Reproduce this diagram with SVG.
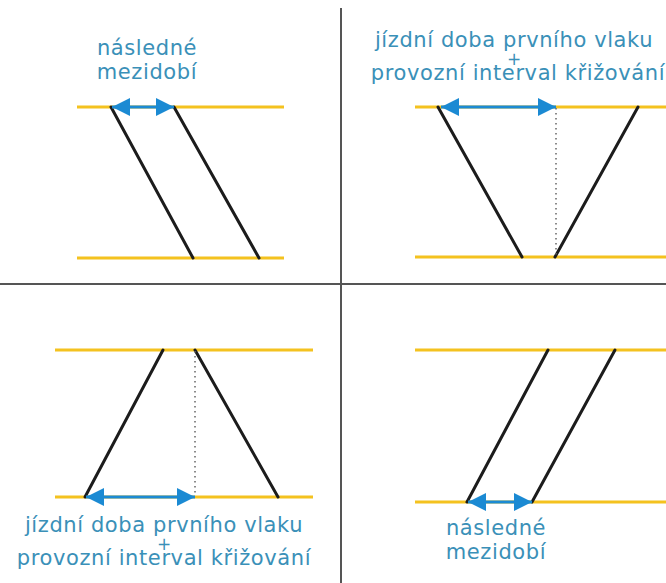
<svg xmlns="http://www.w3.org/2000/svg" width="666" height="583" viewBox="0 0 666 583">
<style>
.rail{stroke:#F4C21F;stroke-width:3;fill:none}
.train{stroke:#1c1c1c;stroke-width:3;fill:none;stroke-linecap:round}
.dim{stroke:#1B8AD3;stroke-width:3;fill:none;marker-start:url(#ah);marker-end:url(#ah)}
.dot{stroke:#666;stroke-width:1.5;stroke-dasharray:1.5 3.5;fill:none}
.div{stroke:#555;stroke-width:2;fill:none}
.lbl{font-family:"DejaVu Sans",Verdana,sans-serif;font-size:21px;letter-spacing:0.6px;fill:#3A90B8;text-anchor:middle}
.plus{font-size:17px;letter-spacing:0}
</style>
<defs>
<marker id="ah" viewBox="0 0 12 12" refX="12" refY="6" markerWidth="6" markerHeight="6.4" orient="auto-start-reverse" markerUnits="strokeWidth">
<path d="M0,0 L12,6 L0,12 Z" fill="#1B8AD3"/>
</marker>
</defs>
<g id="dividers">
<line class="div" x1="341" y1="8" x2="341" y2="583"/>
<line class="div" x1="0" y1="284" x2="666" y2="284"/>
</g>
<g id="panel-tl">
<line class="rail" x1="77" y1="107" x2="284" y2="107"/>
<line class="rail" x1="77" y1="258" x2="284" y2="258"/>
<text class="lbl" x="147" y="55">následné</text>
<text class="lbl" x="147" y="79">mezidobí</text>
</g>
<g id="panel-tr">
<line class="rail" x1="415" y1="107" x2="666" y2="107"/>
<line class="rail" x1="415" y1="257" x2="666" y2="257"/>
<text class="lbl" x="514" y="47">jízdní doba prvního vlaku</text>
<text class="lbl plus" x="514" y="64.5">+</text>
<text class="lbl" x="518" y="80">provozní interval křižování</text>
</g>
<g id="panel-bl">
<line class="rail" x1="55" y1="350" x2="313" y2="350"/>
<line class="rail" x1="55" y1="497" x2="313" y2="497"/>
<text class="lbl" x="164" y="532">jízdní doba prvního vlaku</text>
<text class="lbl plus" x="164" y="550">+</text>
<text class="lbl" x="164" y="565">provozní interval křižování</text>
</g>
<g id="panel-br">
<line class="rail" x1="415" y1="350" x2="666" y2="350"/>
<line class="rail" x1="415" y1="502" x2="666" y2="502"/>
<text class="lbl" x="496" y="535">následné</text>
<text class="lbl" x="496" y="559">mezidobí</text>
</g>
<g id="connectors">
<line class="train" x1="111" y1="107" x2="193" y2="258"/>
<line class="train" x1="174" y1="107" x2="259" y2="258"/>
<line class="dim" x1="112" y1="107" x2="174" y2="107"/>
<line class="train" x1="438" y1="107" x2="522" y2="257"/>
<line class="train" x1="555" y1="257" x2="638" y2="107"/>
<line class="dot" x1="556" y1="108" x2="556" y2="256"/>
<line class="dim" x1="441" y1="107" x2="556" y2="107"/>
<line class="train" x1="163" y1="350" x2="85" y2="497"/>
<line class="train" x1="195" y1="350" x2="278" y2="497"/>
<line class="dot" x1="195" y1="351" x2="195" y2="496"/>
<line class="dim" x1="86" y1="497" x2="195" y2="497"/>
<line class="train" x1="467" y1="502" x2="548" y2="350"/>
<line class="train" x1="532" y1="502" x2="615" y2="350"/>
<line class="dim" x1="468" y1="502" x2="532" y2="502"/>
</g>
</svg>
